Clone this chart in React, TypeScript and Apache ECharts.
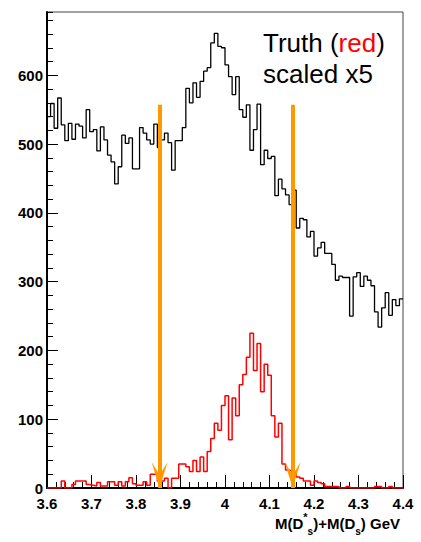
import React, { useEffect, useRef } from "react";
import * as echarts from "echarts";

const X_MIN = 3.6;
const X_MAX = 4.4;
const BIN_WIDTH = 0.008;
const Y_MAX = 692;

// Reconstructed (black) histogram, 100 bins of 0.008 GeV
const RECO_COUNTS = [
  540, 559, 523, 567, 528, 505, 530, 507, 529, 526,
  509, 550, 518, 521, 490, 525, 506, 484, 474, 442,
  467, 513, 501, 509, 464, 464, 524, 516, 506, 500,
  529, 495, 506, 516, 502, 462, 505, 505, 524, 581,
  560, 589, 568, 591, 606, 611, 647, 661, 642, 640,
  615, 598, 572, 598, 550, 539, 557, 491, 521, 558,
  470, 491, 479, 482, 425, 449, 435, 426, 412, 433,
  378, 392, 390, 365, 373, 337, 349, 357, 341, 341,
  325, 302, 308, 306, 306, 250, 307, 313, 293, 308,
  302, 294, 256, 234, 262, 284, 251, 274, 265, 275,
];

// Truth (red) histogram, scaled x5
const TRUTH_COUNTS = [
  0, 0, 0, 0, 10, 0, 0, 5, 10, 10,
  10, 5, 4, 3, 8, 3, 3, 9, 9, 4,
  9, 3, 9, 15, 6, 4, 4, 9, 4, 20,
  20, 10, 10, 14, 0, 14, 14, 35, 35, 31,
  24, 40, 24, 45, 24, 53, 72, 94, 84, 120,
  134, 70, 131, 105, 150, 165, 190, 225, 171, 210,
  140, 180, 164, 105, 74, 94, 35, 26, 25, 20,
  16, 14, 10, 10, 4, 10, 8, 6, 2, 2,
  2, 2, 0, 0, 2, 0, 0, 0, 0, 0,
  0, 0, 2, 2, 0, 0, 2, 0, 0, 0,
];

const ARROW_X = [3.853, 4.152];
const ARROW_TOP = 557;

const FONT = "'Liberation Sans', Arial, Helvetica, sans-serif";
const ORANGE = "#ff9900";

function toSteps(counts: number[]): [number, number][] {
  const pts: [number, number][] = counts.map((c, i) => [X_MIN + i * BIN_WIDTH, c]);
  pts.push([X_MAX, counts[counts.length - 1]]);
  return pts;
}

export default function App() {
  const ref = useRef<HTMLDivElement>(null);
  useEffect(() => {
    if (!ref.current) return;
    const chart = echarts.init(ref.current, null, { renderer: "svg" });
    const labelStyle = { color: "#000", fontFamily: FONT, fontWeight: "bold" as const, fontSize: 15 };
    const option: any = {
      animation: false,
      backgroundColor: "#fff",
      grid: { left: 47, right: 18, top: 12, bottom: 54, show: true, borderColor: "#444", borderWidth: 1, backgroundColor: "transparent" },
      xAxis: {
        type: "value",
        min: X_MIN,
        max: X_MAX,
        interval: 0.1,
        axisLine: { show: true, lineStyle: { color: "#000", width: 2 } },
        axisTick: { show: true, inside: true, length: 13, lineStyle: { color: "#000", width: 1 } },
        minorTick: { show: true, splitNumber: 5, length: 6, lineStyle: { color: "#000", width: 1 } },
        splitLine: { show: false },
        minorSplitLine: { show: false },
        axisLabel: {
          ...labelStyle,
          margin: 8,
          showMinLabel: true,
          showMaxLabel: true,
          formatter: (v: number) => String(Number(v.toFixed(1))),
        },
      },
      yAxis: [
        {
          type: "value",
          position: "left",
          min: 0,
          max: Y_MAX,
          interval: 100,
          axisLine: { show: true, lineStyle: { color: "#000", width: 2 } },
          axisTick: { show: true, inside: true, length: 11, lineStyle: { color: "#000", width: 1 } },
          splitLine: { show: false },
          axisLabel: { ...labelStyle, margin: 4, showMaxLabel: false },
        },
        {
          type: "value",
          position: "left",
          min: 0,
          max: Y_MAX,
          interval: 20,
          axisLine: { show: false },
          axisTick: { show: true, inside: true, length: 6, lineStyle: { color: "#000", width: 1 } },
          splitLine: { show: false },
          axisLabel: { show: false },
        },
      ],
      series: [
        {
          type: "line",
          step: "end",
          symbol: "none",
          data: toSteps(RECO_COUNTS),
          lineStyle: { color: "#000", width: 1.3 },
          z: 2,
        },
        {
          type: "line",
          step: "end",
          symbol: "none",
          data: toSteps(TRUTH_COUNTS),
          lineStyle: { color: "#ff0000", width: 1.5 },
          z: 3,
          markLine: {
            silent: true,
            symbol: ["none", "none"],
            label: { show: false },
            lineStyle: { color: ORANGE, width: 4, type: "solid", opacity: 1 },
            emphasis: { disabled: true },
            data: ARROW_X.map((x) => [{ coord: [x, ARROW_TOP] }, { coord: [x, 0] }]),
          },
        },
        {
          type: "scatter",
          silent: true,
          clip: false,
          symbol: "path://M0,0L8,13L16,0L8,26Z",
          symbolSize: [16, 26],
          symbolOffset: [0, "-50%"],
          itemStyle: { color: ORANGE, opacity: 1 },
          data: ARROW_X.map((x) => [x, 0]),
          z: 6,
        },
      ],
      graphic: [
        {
          type: "text",
          left: 263,
          top: 30,
          style: {
            text: "{a|Truth (}{r|red}{a|)}",
            rich: {
              a: { fontSize: 26, fontFamily: FONT, fill: "#000" },
              r: { fontSize: 26, fontFamily: FONT, fill: "#ff0000" },
            },
          },
        },
        {
          type: "text",
          left: 263,
          top: 61,
          style: { text: "scaled x5", fontSize: 26, fontFamily: FONT, fill: "#000" },
        },
        {
          type: "text",
          right: 21,
          top: 511,
          style: {
            text: "{t|M(D}{sup|*}{sub|s}{t|)+M(D}{sub|s}{t|) GeV}",
            rich: {
              t: { fontSize: 15, fontWeight: "bold", fontFamily: FONT, fill: "#000", lineHeight: 25, verticalAlign: "middle" },
              sup: { fontSize: 11, fontWeight: "bold", fontFamily: FONT, fill: "#000", lineHeight: 11, verticalAlign: "top" },
              sub: { fontSize: 10, fontWeight: "bold", fontFamily: FONT, fill: "#000", lineHeight: 10, verticalAlign: "bottom" },
            },
          },
        },
      ],
    };
    chart.setOption(option);
    return () => chart.dispose();
  }, []);
  return <div ref={ref} style={{ position: "absolute", left: 0, top: 0, width: 421, height: 542 }} />;
}
